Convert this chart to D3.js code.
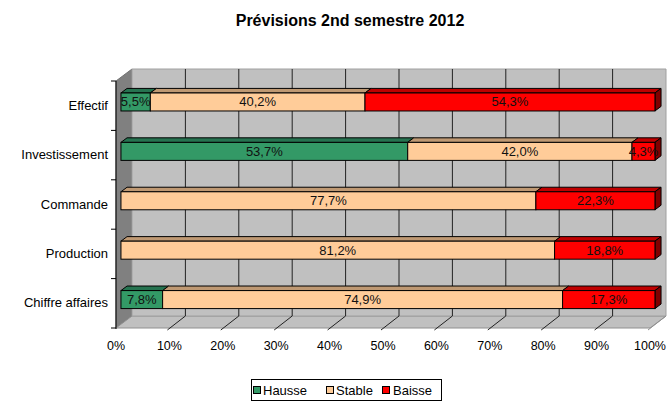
<!DOCTYPE html>
<html>
<head>
<meta charset="utf-8">
<script src="https://cdn.jsdelivr.net/npm/d3@7"></script>
<style>
html,body{margin:0;padding:0;background:#fff;}
svg{display:block;font-family:"Liberation Sans",Arial,sans-serif;}
</style>
</head>
<body>
<svg id="chart" width="669" height="402"></svg>
<script>
const categories = ["Effectif", "Investissement", "Commande", "Production", "Chiffre affaires"];
const seriesNames = ["Hausse", "Stable", "Baisse"];
const hausse = [5.5, 53.7, 0, 0, 7.8];
const stable = [40.2, 42.0, 77.7, 81.2, 74.9];
const baisse = [54.3, 4.3, 22.3, 18.8, 17.3];
const xTicks = [0, 10, 20, 30, 40, 50, 60, 70, 80, 90, 100];
const title = "Prévisions 2nd semestre 2012";

const colors = {
  Hausse: {front: "#339966", top: "#267350", side: "#1a4d33"},
  Stable: {front: "#FFCC99", top: "#bf9973", side: "#806650"},
  Baisse: {front: "#FF0000", top: "#bf0000", side: "#800000"}
};
const seriesData = {Hausse: hausse, Stable: stable, Baisse: baisse};

const svg = d3.select("#chart");

// projection: front plane scales + depth offset
const x = d3.scaleLinear().domain([0, 100]).range([116, 650]);
const y = d3.scaleBand().domain(categories).range([81, 328]).padding(0);
const DX = 16, DY = -12;
const P = (xv, yp, t) => [x(xv) + DX * t, yp + DY * t];
const pts = arr => arr.map(p => p.join(",")).join(" ");

const yTop = 81, yBot = 328;

// Title
svg.append("text").attr("x", 350).attr("y", 26).attr("text-anchor", "middle")
  .attr("font-weight", "bold").attr("font-size", 16).attr("fill", "#000").text(title);

// Left wall
svg.append("polygon").attr("points", pts([P(0, yTop, 0), P(0, yTop, 1), P(0, yBot, 1), P(0, yBot, 0)]))
  .attr("fill", "#808080").attr("stroke", "#707070").attr("stroke-width", 1);
// Floor
svg.append("polygon").attr("points", pts([P(0, yBot, 0), P(0, yBot, 1), P(100, yBot, 1), P(100, yBot, 0)]))
  .attr("fill", "#c0c0c0").attr("stroke", "#909090").attr("stroke-width", 1);
// Back wall
svg.append("polygon").attr("points", pts([P(0, yTop, 1), P(100, yTop, 1), P(100, yBot, 1), P(0, yBot, 1)]))
  .attr("fill", "#c0c0c0").attr("stroke", "#a0a0a0").attr("stroke-width", 1);

// Back gridlines and floor lines
xTicks.forEach(v => {
  if (v > 0 && v < 100) {
    const a = P(v, yTop, 1), b = P(v, yBot, 1);
    svg.append("line").attr("x1", a[0]).attr("y1", a[1]).attr("x2", b[0]).attr("y2", b[1])
      .attr("stroke", "#222").attr("stroke-width", 1);
  }
  if (v > 0) {
    const c = P(v, yBot, 1), d = P(v, yBot, 0);
    svg.append("line").attr("x1", c[0]).attr("y1", c[1]).attr("x2", d[0] - 2).attr("y2", d[1] + 2)
      .attr("stroke", v === 100 ? "#909090" : "#222").attr("stroke-width", 1);
  }
});

// Axes on front plane
svg.append("line").attr("x1", x(0)).attr("y1", yTop).attr("x2", x(0)).attr("y2", yBot + 1)
  .attr("stroke", "#000").attr("stroke-width", 1);
const yEdges = categories.map(c => y(c)).concat([yBot]);
yEdges.forEach(e => {
  svg.append("line").attr("x1", x(0) - 5).attr("y1", e).attr("x2", x(0)).attr("y2", e)
    .attr("stroke", "#000").attr("stroke-width", 1);
});

// Category labels
categories.forEach(c => {
  svg.append("text").attr("x", 108).attr("y", y(c) + y.bandwidth() / 2 + 4)
    .attr("text-anchor", "end").attr("font-size", 13).attr("fill", "#000").text(c);
});

// X tick labels
xTicks.forEach(v => {
  svg.append("text").attr("x", x(v)).attr("y", 350).attr("text-anchor", "middle")
    .attr("font-size", 12.5).attr("fill", "#000").text(v + "%");
});

// Bars
const t0 = 0.31, t1 = 0.69, halfH = 9;
const fmt = v => v.toFixed(1).replace(".", ",") + "%";
categories.forEach((c, i) => {
  const yc = y(c) + y.bandwidth() / 2;
  let acc = 0;
  const segs = [];
  seriesNames.forEach(s => {
    const v = seriesData[s][i];
    segs.push({s, a: acc, b: acc + v, v});
    acc += v;
  });
  const visible = segs.filter(d => d.v > 0);
  const last = visible[visible.length - 1];
  visible.forEach(d => {
    const col = colors[d.s];
    const g = svg.append("g");
    g.append("polygon").attr("points", pts([P(d.a, yc - halfH, t0), P(d.a, yc - halfH, t1), P(d.b, yc - halfH, t1), P(d.b, yc - halfH, t0)]))
      .attr("fill", col.top).attr("stroke", "#000").attr("stroke-width", 1).attr("stroke-linejoin", "round");
    if (d === last) {
      g.append("polygon").attr("points", pts([P(d.b, yc - halfH, t0), P(d.b, yc - halfH, t1), P(d.b, yc + halfH, t1), P(d.b, yc + halfH, t0)]))
        .attr("fill", col.side).attr("stroke", "#000").attr("stroke-width", 1).attr("stroke-linejoin", "round");
    }
    const f0 = P(d.a, yc - halfH, t0), f1 = P(d.b, yc + halfH, t0);
    g.append("rect").attr("x", f0[0]).attr("y", f0[1]).attr("width", f1[0] - f0[0]).attr("height", f1[1] - f0[1])
      .attr("fill", col.front).attr("stroke", "#000").attr("stroke-width", 1);
  });
  visible.forEach(d => {
    const f0 = P(d.a, yc, t0), f1 = P(d.b, yc, t0);
    svg.append("text").attr("x", (f0[0] + f1[0]) / 2).attr("y", f0[1] + 4.5)
      .attr("text-anchor", "middle").attr("font-size", 13).attr("fill", "#111").text(fmt(d.v));
  });
});

// Legend
const lg = svg.append("g");
lg.append("rect").attr("x", 251.5).attr("y", 379.5).attr("width", 190).attr("height", 21)
  .attr("fill", "#fff").attr("stroke", "#000").attr("stroke-width", 1);
const legendPos = [{sq: 253, tx: 263}, {sq: 326, tx: 336}, {sq: 382, tx: 393}];
seriesNames.forEach((s, i) => {
  lg.append("rect").attr("x", legendPos[i].sq + 0.5).attr("y", 386.5).attr("width", 7).attr("height", 7)
    .attr("fill", colors[s].front).attr("stroke", "#000").attr("stroke-width", 1);
  lg.append("text").attr("x", legendPos[i].tx).attr("y", 395).attr("font-size", 13).attr("fill", "#000").text(s);
});
</script>
</body>
</html>
